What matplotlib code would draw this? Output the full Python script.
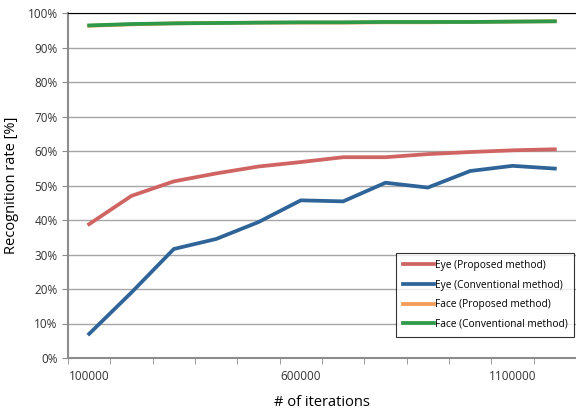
import matplotlib.pyplot as plt
from matplotlib.ticker import FixedLocator, PercentFormatter

iterations = [100000, 200000, 300000, 400000, 500000, 600000,
              700000, 800000, 900000, 1000000, 1100000, 1200000]
eye_proposed = [38.8, 47.0, 51.2, 53.5, 55.5, 56.8, 58.2, 58.2, 59.1, 59.7, 60.2, 60.5]
eye_conventional = [7.0, 19.0, 31.6, 34.5, 39.4, 45.7, 45.4, 50.8, 49.4, 54.2, 55.7, 54.9]
face_proposed = [96.3, 96.7, 97.0, 97.1, 97.2, 97.2, 97.2, 97.3, 97.3, 97.4, 97.5, 97.6]
face_conventional = [96.4, 96.8, 97.0, 97.1, 97.2, 97.3, 97.3, 97.4, 97.4, 97.4, 97.5, 97.6]

plt.rcParams['font.family'] = ['Open Sans', 'DejaVu Sans']

fig = plt.figure(figsize=(5.76, 4.12), dpi=100)
ax = fig.add_axes([68 / 576, 54 / 412, 508 / 576, 345 / 412])

pos = list(range(len(iterations)))
ax.plot(pos, eye_proposed, color="#CF6462", lw=2.7, label="Eye (Proposed method)", zorder=3)
ax.plot(pos, eye_conventional, color="#2F6498", lw=2.7, label="Eye (Conventional method)", zorder=3)
ax.plot(pos, face_proposed, color="#F69C58", lw=2.7, label="Face (Proposed method)", zorder=3)
ax.plot(pos, face_conventional, color="#2E9A49", lw=2.7, label="Face (Conventional method)", zorder=4)

ax.set_xlim(-0.5, len(iterations) - 0.5)
ax.set_ylim(0, 100)
ax.set_yticks(range(0, 101, 10))
ax.yaxis.set_major_formatter(PercentFormatter(decimals=0))
ax.grid(axis="y", color="#A6A6A6", lw=1)
ax.set_axisbelow(True)

# category labels every 5th point, tick marks between categories
ax.set_xticks([0, 5, 10])
ax.set_xticklabels([str(iterations[i]) for i in [0, 5, 10]])
ax.xaxis.set_minor_locator(FixedLocator([p - 0.5 for p in pos] + [len(pos) - 0.5]))
ax.tick_params(axis="x", which="major", length=0, pad=9, labelsize=8.5, colors="#333333")
ax.tick_params(axis="x", which="minor", length=4, color="#8C8C8C")
ax.tick_params(axis="y", length=4, color="#8C8C8C", labelsize=8.5, labelcolor="#333333")

for s in ["left", "bottom"]:
    ax.spines[s].set_color("#8C8C8C")
    ax.spines[s].set_linewidth(1.5)
ax.spines["top"].set_color("black")
ax.spines["right"].set_visible(False)

ax.set_xlabel("# of iterations", fontsize=10.5, labelpad=8)
ax.set_ylabel("Recognition rate [%]", fontsize=10.5, labelpad=6)

leg = ax.legend(loc="lower right", bbox_to_anchor=(0.997, 0.061), borderaxespad=0,
                fontsize=7.3, frameon=True, fancybox=False, edgecolor="black",
                handlelength=3.0, handletextpad=0.1, labelspacing=0.85,
                borderpad=0.7)
leg.get_frame().set_linewidth(0.8)

fig.savefig("out.png", dpi=100)
